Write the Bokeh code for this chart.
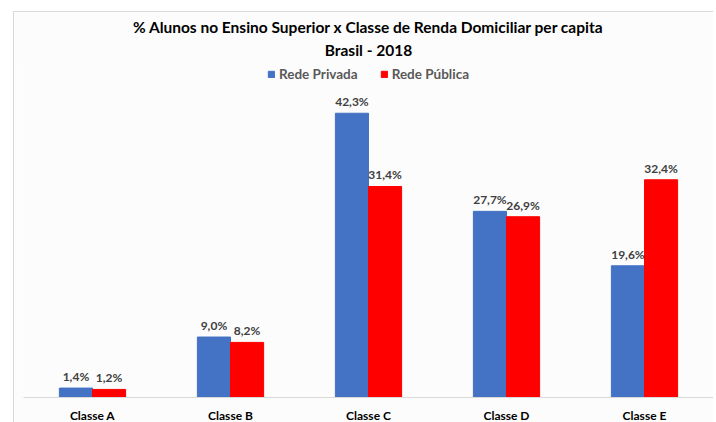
from bokeh.plotting import figure
from bokeh.models import ColumnDataSource, FactorRange, Range1d, Legend, LegendItem, Title
from bokeh.transform import dodge
from bokeh.core.properties import value
from bokeh.embed import file_html
from bokeh.resources import INLINE

categories = ["Classe A", "Classe B", "Classe C", "Classe D", "Classe E"]
rede_privada = [1.4, 9.0, 42.3, 27.7, 19.6]
rede_publica = [1.2, 8.2, 31.4, 26.9, 32.4]
series_names = ["Rede Privada", "Rede Pública"]
title_line1 = "% Alunos no Ensino Superior x Classe de Renda Domiciliar per capita"
title_line2 = "Brasil - 2018"


def fmt(v):
    return f"{v:.1f}".replace(".", ",") + "%"


src = ColumnDataSource(dict(
    cat=categories,
    priv=rede_privada,
    pub=rede_publica,
    priv_lbl=[fmt(v) for v in rede_privada],
    pub_lbl=[fmt(v) for v in rede_publica],
))

FONT = "Lato"
BG = "#fcfcfc"

p = figure(
    x_range=FactorRange(*categories, range_padding=0),
    y_range=Range1d(0, 50),
    width=700, height=413,
    output_backend="svg", toolbar_location=None, title=None,
    min_border_left=9, min_border_right=1, min_border_bottom=27, min_border_top=49,
    background_fill_color=BG, border_fill_color=BG, outline_line_color=None,
)
p.styles = {
    "margin-left": "13px", "margin-top": "11px", "margin-bottom": "-3px",
    "border-left": "1px solid #d9d9d9", "border-top": "1px solid #d9d9d9",
}

r1 = p.vbar(x=dodge("cat", -0.12, range=p.x_range), top="priv", width=0.24,
            source=src, fill_color="#4472C4", line_color="#4472C4")
r2 = p.vbar(x=dodge("cat", 0.12, range=p.x_range), top="pub", width=0.24,
            source=src, fill_color="#FF0000", line_color="#FF0000")

common = dict(text_align="center", text_baseline="bottom", y_offset=-4,
              text_font=value(FONT), text_font_style="bold",
              text_font_size="12px", text_color="#404040", source=src)
p.text(x=dodge("cat", -0.12, range=p.x_range), y="priv", text="priv_lbl", **common)
p.text(x=dodge("cat", 0.12, range=p.x_range), y="pub", text="pub_lbl", **common)

legend = Legend(
    items=[LegendItem(label=series_names[0], renderers=[r1]),
           LegendItem(label=series_names[1], renderers=[r2])],
    orientation="horizontal", location="top_center",
    label_text_font=FONT, label_text_font_style="bold", label_text_font_size="13.5px",
    label_text_color="#595959", glyph_width=8, glyph_height=8, label_standoff=4,
    spacing=22, border_line_color=None, background_fill_alpha=0, padding=0, margin=5,
)
p.add_layout(legend, "center")

t2 = Title(text=title_line2, align="center", text_font=FONT, text_font_size="15.5px",
           text_font_style="bold", text_color="#000000", standoff=6)
p.add_layout(t2, "above")
t1 = Title(text=title_line1, align="center", text_font=FONT, text_font_size="15.5px",
           text_font_style="bold", text_color="#000000", standoff=0)
p.add_layout(t1, "above")

p.xaxis.axis_line_color = "#d9d9d9"
p.xaxis.major_tick_line_color = None
p.xaxis.minor_tick_line_color = None
p.xaxis.major_label_text_font = FONT
p.xaxis.major_label_text_font_style = "bold"
p.xaxis.major_label_text_font_size = "12px"
p.xaxis.major_label_text_color = "#000000"
p.xaxis.major_label_standoff = 4
p.yaxis.visible = False
p.xgrid.grid_line_color = None
p.ygrid.grid_line_color = None

open("out.html", "w").write(file_html(p, INLINE))
